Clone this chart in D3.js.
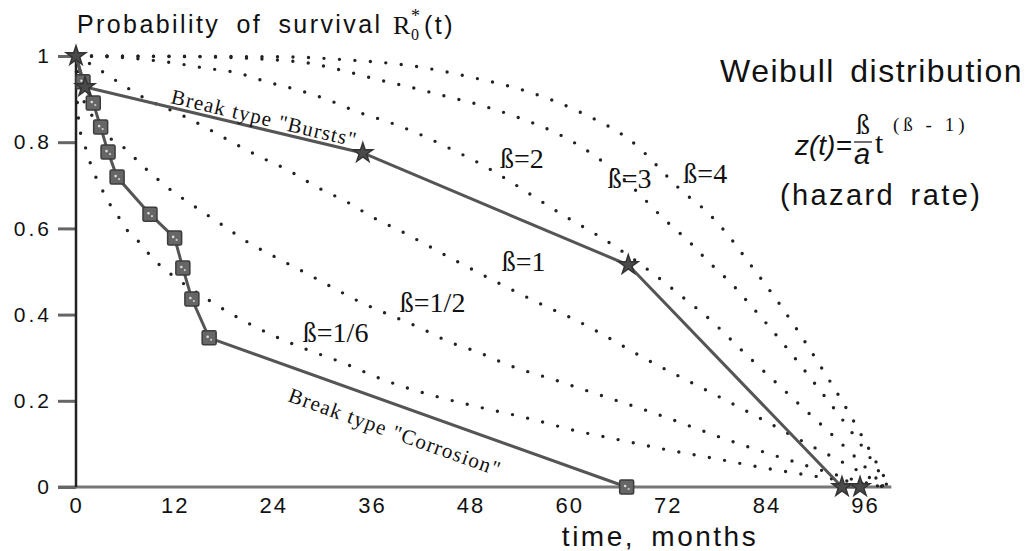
<!DOCTYPE html>
<html>
<head>
<meta charset="utf-8">
<script src="https://cdn.jsdelivr.net/npm/d3@7"></script>
<style>
  body { margin: 0; background: #fff; }
  svg { display: block; }
</style>
</head>
<body>
<svg id="chart" width="1028" height="551"></svg>
<script>
// Survival curves R(t) of the Weibull family, one per shape parameter ß, as [months, R]
const beta16 = [[0,1],[0.12,0.91],[0.49,0.828],[1.1,0.791],[1.7,0.754],[2.3,0.724],[3.2,0.689],[4.1,0.657],[5.2,0.626],[6.3,0.594],[7.7,0.568],[9.0,0.538],[10.3,0.513],[11.8,0.49],[16.7,0.427],[20,0.39],[23.6,0.355],[27,0.327],[32.5,0.288],[37.8,0.246],[43.3,0.213],[48.9,0.186],[54.9,0.16],[60.5,0.132],[66.2,0.109],[72,0.086],[77.5,0.067],[83.2,0.046],[88.9,0.028],[94.4,0.012],[98.4,0]];
const beta12 = [[0,1],[0.24,0.956],[0.73,0.91],[1.7,0.87],[2.9,0.835],[4.1,0.81],[5.4,0.794],[8.4,0.74],[11.2,0.694],[14.5,0.65],[17.8,0.608],[20.9,0.568],[24.5,0.531],[27.9,0.497],[31.3,0.462],[34.6,0.429],[38.2,0.399],[41.9,0.369],[45.5,0.336],[48.9,0.313],[52.6,0.283],[58.3,0.248],[63.8,0.213],[69.2,0.179],[80.4,0.102],[87.5,0.058],[94.8,0.016],[98.4,0]];
const beta1 = [[0,1],[1.95,0.979],[5.35,0.937],[8.76,0.898],[12.3,0.868],[15.7,0.835],[19.0,0.8],[22.4,0.766],[25.8,0.735],[29.3,0.696],[33.0,0.661],[36.1,0.626],[39.7,0.592],[43.1,0.557],[46.5,0.522],[57.3,0.418],[60.5,0.39],[70.7,0.283],[74.3,0.248],[82.0,0.172],[89.3,0.097],[95.4,0.035],[98.4,0]];
const beta2 = [[0,1],[6.6,0.995],[11.8,0.984],[15.7,0.972],[19.6,0.961],[23.2,0.94],[27.0,0.921],[30.7,0.898],[34.3,0.87],[38.0,0.847],[41.5,0.821],[45.1,0.789],[48.3,0.759],[60.3,0.619],[63.8,0.58],[70.1,0.497],[74.7,0.427],[76.2,0.404],[82.0,0.299],[88.1,0.19],[94.2,0.081],[98.4,0]];
const beta3 = [[0,1],[15.1,0.998],[27.3,0.986],[32.1,0.968],[37.0,0.944],[40.6,0.928],[44.3,0.91],[49.2,0.886],[54.0,0.856],[58.9,0.817],[63.8,0.759],[67.4,0.701],[71.7,0.619],[74.5,0.571],[77.1,0.52],[79.9,0.469],[81.2,0.441],[85.7,0.341],[90.5,0.225],[94.2,0.132],[97.2,0.051],[98.8,0]];
const beta4 = [[0,1],[25.4,0.998],[33.0,0.991],[40.9,0.977],[48.5,0.949],[55.2,0.916],[61.3,0.87],[67.4,0.805],[73.9,0.684],[76.9,0.636],[79.6,0.578],[81.9,0.52],[85.7,0.422],[90.5,0.283],[94.2,0.167],[97.2,0.063],[99.0,0]];

// Observed survival of pipes by break type, as [months, R]
const bursts = [[0,1],[1.1,0.928],[34.9,0.775],[67.2,0.515],[93.2,0],[95.4,0]];
const corrosion = [[0,1],[0.85,0.94],[2.1,0.891],[3.0,0.835],[3.9,0.777],[5.0,0.719],[9.0,0.633],[12.0,0.578],[13.0,0.508],[14.1,0.436],[16.2,0.346],[67.0,0]];

// Axis ticks
const xTicks = [0, 12, 24, 36, 48, 60, 72, 84, 96];
const yTicks = [0, 0.2, 0.4, 0.6, 0.8, 1];
const yTickLabels = ["0", "0.2", "0.4", "0.6", "0.8", "1"];

// Curve labels: text and where it sits, in data units (left end of baseline)
const curveLabels = [
  { text: "ß=2",   t: 51.6, r: 0.740 },
  { text: "ß=3",   t: 64.7, r: 0.694 },
  { text: "ß=4",   t: 73.9, r: 0.705 },
  { text: "ß=1",   t: 51.8, r: 0.501 },
  { text: "ß=1/2", t: 39.4, r: 0.406 },
  { text: "ß=1/6", t: 27.6, r: 0.336 }
];

const svg = d3.select("#chart");
const x = d3.scaleLinear().domain([0, 96]).range([76, 865]);
const y = d3.scaleLinear().domain([0, 1]).range([487, 56]);

const sans = "'Liberation Sans', Arial, Helvetica, sans-serif";
const serif = "'Liberation Serif', 'Times New Roman', serif";
const ink = "#111";
const lineGrey = "#555";

// ---- axes ----
svg.append("line")
  .attr("x1", x(0) - 18).attr("x2", x(99.2))
  .attr("y1", y(0)).attr("y2", y(0))
  .attr("stroke", "#777").attr("stroke-width", 3);

const yAxis = svg.append("g")
  .attr("transform", `translate(${x(0)},0)`)
  .call(d3.axisLeft(y).tickValues(yTicks).tickSize(18).tickPadding(6)
    .tickFormat((d, i) => yTickLabels[i]));
yAxis.select(".domain").remove();
yAxis.selectAll(".tick line").attr("stroke", "#666").attr("stroke-width", 3);
yAxis.selectAll(".tick text")
  .attr("fill", ink).style("font-family", sans).style("font-size", "21px")
  .style("letter-spacing", "3px");

svg.append("line")
  .attr("x1", x(0)).attr("x2", x(0))
  .attr("y1", y(0)).attr("y2", y(1))
  .attr("stroke", "#222").attr("stroke-width", 2.5);

const xAxis = svg.append("g")
  .attr("transform", `translate(0,${y(0)})`)
  .call(d3.axisBottom(x).tickValues(xTicks).tickSize(0).tickPadding(10));
xAxis.select(".domain").remove();
xAxis.selectAll(".tick text")
  .attr("fill", ink).style("font-family", sans).style("font-size", "22px")
  .style("letter-spacing", "2px");

svg.append("text")
  .attr("x", 660).attr("y", 546)
  .attr("text-anchor", "middle")
  .attr("fill", ink).style("font-family", sans).style("font-size", "28px")
  .style("letter-spacing", "2.5px").style("word-spacing", "6px")
  .text("time, months");

// ---- title ----
svg.append("text")
  .attr("x", 77).attr("y", 33)
  .attr("fill", ink).style("font-family", sans).style("font-size", "25px")
  .style("letter-spacing", "2.4px").style("word-spacing", "7px")
  .text("Probability of survival");
svg.append("text").attr("x", 393).attr("y", 34)
  .attr("fill", ink).style("font-family", serif).style("font-size", "26px").text("R");
svg.append("text").attr("x", 411).attr("y", 22)
  .attr("fill", ink).style("font-family", serif).style("font-size", "18px").text("*");
svg.append("text").attr("x", 411).attr("y", 40)
  .attr("fill", ink).style("font-family", serif).style("font-size", "16px").text("0");
svg.append("text").attr("x", 424).attr("y", 34)
  .attr("fill", ink).style("font-family", sans).style("font-size", "25px")
  .style("letter-spacing", "2.5px").text("(t)");

// ---- Weibull curves (dotted) ----
const line = d3.line().x(d => x(d[0])).y(d => y(d[1])).curve(d3.curveMonotoneX);
const weibull = [beta16, beta12, beta1, beta2, beta3, beta4];
svg.append("g").selectAll("path").data(weibull).join("path")
  .attr("d", line)
  .attr("fill", "none")
  .attr("stroke", "#222")
  .attr("stroke-width", 3.4)
  .attr("stroke-linecap", "round")
  .attr("stroke-dasharray", "0 15.5");

// ---- curve labels ----
svg.append("g").selectAll("text").data(curveLabels).join("text")
  .attr("x", d => x(d.t)).attr("y", d => y(d.r))
  .attr("fill", ink).style("font-family", serif).style("font-size", "28px")
  .text(d => d.text);

// ---- observed series ----
const poly = d3.line().x(d => x(d[0])).y(d => y(d[1]));
svg.append("path").datum(corrosion).attr("d", poly)
  .attr("fill", "none").attr("stroke", lineGrey).attr("stroke-width", 3);
svg.append("path").datum(bursts).attr("d", poly)
  .attr("fill", "none").attr("stroke", lineGrey).attr("stroke-width", 3);

const sq = svg.append("g").selectAll("g").data(corrosion.slice(1)).join("g")
  .attr("transform", d => `translate(${x(d[0])},${y(d[1])})`);
sq.append("rect").attr("x", -7).attr("y", -7).attr("width", 14).attr("height", 14)
  .attr("rx", 1.5).attr("fill", "#666").attr("stroke", "#3c3c3c").attr("stroke-width", 1.5);
sq.append("circle").attr("r", 1.3).attr("cx", -1.5).attr("cy", -1).attr("fill", "#ddd");
sq.append("circle").attr("r", 1.1).attr("cx", 2).attr("cy", 2).attr("fill", "#ccc");

const star = d3.symbol().type(d3.symbolStar).size(120);
svg.append("g").selectAll("path").data(bursts).join("path")
  .attr("transform", d => `translate(${x(d[0])},${y(d[1])})`)
  .attr("d", star)
  .attr("fill", "#4a4a4a").attr("stroke", "#333").attr("stroke-width", 1.5);

// ---- break type captions along their lines ----
function caption(p0, p1, dx, dy, txt, size) {
  const ang = Math.atan2(y(p1[1]) - y(p0[1]), x(p1[0]) - x(p0[0])) * 180 / Math.PI;
  svg.append("text")
    .attr("transform", `translate(${dx},${dy}) rotate(${ang})`)
    .attr("fill", ink).style("font-family", serif).style("font-size", size + "px")
    .style("letter-spacing", "1.2px")
    .text(txt);
}
caption(bursts[1], bursts[2], 170, 103, "Break type \"Bursts\"", 21);
caption(corrosion[10], corrosion[11], 287, 401, "Break type \"Corrosion\"", 21);

// ---- distribution note ----
svg.append("text")
  .attr("x", 720).attr("y", 82)
  .attr("fill", ink).style("font-family", sans).style("font-size", "32px")
  .style("letter-spacing", "1.5px").style("word-spacing", "5px")
  .text("Weibull distribution");

svg.append("text").attr("x", 795).attr("y", 155)
  .attr("fill", ink).style("font-family", sans).style("font-size", "28px")
  .style("font-style", "italic").text("z(t)=");
svg.append("text").attr("x", 863).attr("y", 134).attr("text-anchor", "middle")
  .attr("fill", ink).style("font-family", serif).style("font-size", "28px").text("ß");
svg.append("line").attr("x1", 854).attr("x2", 872).attr("y1", 142).attr("y2", 142)
  .attr("stroke", ink).attr("stroke-width", 1.2);
svg.append("text").attr("x", 862).attr("y", 164).attr("text-anchor", "middle")
  .attr("fill", ink).style("font-family", sans).style("font-size", "29px")
  .style("font-style", "italic").text("a");
svg.append("text").attr("x", 875).attr("y", 153)
  .attr("fill", ink).style("font-family", serif).style("font-size", "30px").text("t");
svg.append("text").attr("x", 893).attr("y", 131)
  .attr("fill", ink).style("font-family", serif).style("font-size", "19px")
  .style("letter-spacing", "4px").text("(ß - 1)");

svg.append("text")
  .attr("x", 780).attr("y", 205)
  .attr("fill", ink).style("font-family", sans).style("font-size", "29px")
  .style("letter-spacing", "2.4px").style("word-spacing", "5px")
  .text("(hazard rate)");
</script>
</body>
</html>
